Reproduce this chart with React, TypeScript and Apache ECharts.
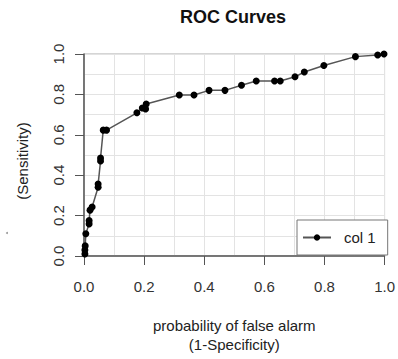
import React, { useEffect, useRef } from "react";
import * as echarts from "echarts";

const fpr = [0.003, 0.003, 0.004, 0.006, 0.017, 0.017, 0.02, 0.027, 0.047, 0.047, 0.055, 0.055, 0.064, 0.075, 0.176, 0.194, 0.205, 0.207, 0.317, 0.366, 0.416, 0.469, 0.524, 0.573, 0.634, 0.653, 0.702, 0.733, 0.798, 0.903, 0.977, 0.998];
const tpr = [0.01, 0.03, 0.05, 0.11, 0.159, 0.175, 0.227, 0.243, 0.34, 0.356, 0.47, 0.485, 0.623, 0.623, 0.709, 0.733, 0.728, 0.752, 0.797, 0.797, 0.82, 0.82, 0.845, 0.866, 0.866, 0.866, 0.887, 0.911, 0.943, 0.987, 0.995, 1.0];
const seriesName = "col 1";
const titleText = "ROC Curves";
const xTitle = "probability of false alarm\n(1-Specificity)";
const yTitle = "(Sensitivity)";

const FONT = "'Liberation Sans', Arial, sans-serif";

export default function App() {
  const ref = useRef<HTMLDivElement>(null);
  useEffect(() => {
    if (!ref.current) return;
    const chart = echarts.init(ref.current, null, { renderer: "svg" });
    const data = fpr.map((x, i) => [x, tpr[i]]);
    const gridLine = { show: true, lineStyle: { color: "#e3e3e3", width: 1 } };
    chart.setOption({
      animation: false,
      backgroundColor: "#fff",
      textStyle: { fontFamily: FONT },
      title: {
        text: titleText,
        left: 180,
        top: 8,
        padding: 0,
        textStyle: { fontFamily: FONT, fontSize: 18, fontWeight: "bold", color: "#111" },
      },
      legend: {
        data: [seriesName],
        left: 297,
        top: 220,
        padding: [10, 12, 10, 5],
        itemWidth: 28,
        itemHeight: 8,
        borderColor: "#777",
        borderWidth: 1,
        borderRadius: 0,
        backgroundColor: "#fff",
        textStyle: { fontFamily: FONT, fontSize: 15, color: "#222", padding: [0, 0, 0, 8] },
      },
      grid: {
        left: 84,
        right: 11,
        top: 54,
        bottom: 99,
        show: true,
        borderColor: "#aaa",
        borderWidth: 1,
        containLabel: false,
      },
      xAxis: {
        type: "value",
        min: 0,
        max: 1,
        interval: 0.2,
        name: xTitle,
        nameLocation: "middle",
        nameGap: 60,
        nameTextStyle: { fontFamily: FONT, fontSize: 15, color: "#222", lineHeight: 19 },
        axisLine: { show: true, lineStyle: { color: "#555", width: 1.5 } },
        axisTick: { show: true, inside: false, length: 9, lineStyle: { color: "#555" } },
        axisLabel: { margin: 23, fontSize: 15, color: "#333", fontFamily: FONT, formatter: (v: number) => v.toFixed(1) },
        splitLine: gridLine,
        minorTick: { show: false, splitNumber: 2 },
        minorSplitLine: gridLine,
      },
      yAxis: {
        type: "value",
        min: 0,
        max: 1,
        interval: 0.2,
        name: yTitle,
        nameLocation: "middle",
        nameRotate: 90,
        nameGap: 54,
        nameTextStyle: { fontFamily: FONT, fontSize: 15, color: "#222", padding: [0, 12, 0, 0] },
        axisLine: { show: true, lineStyle: { color: "#555", width: 1.5 } },
        axisTick: { show: true, inside: false, length: 9, lineStyle: { color: "#555" } },
        axisLabel: { margin: 18, rotate: 90, fontSize: 15, color: "#333", fontFamily: FONT, formatter: (v: number) => v.toFixed(1) },
        splitLine: gridLine,
        minorTick: { show: false, splitNumber: 2 },
        minorSplitLine: gridLine,
      },
      graphic: [
        { type: "circle", shape: { cx: 7, cy: 233, r: 1 }, style: { fill: "#999" }, silent: true },
      ],
      series: [
        {
          name: seriesName,
          type: "line",
          data,
          symbol: "circle",
          symbolSize: 7,
          showAllSymbol: true,
          itemStyle: { color: "#000" },
          lineStyle: { color: "#555", width: 1.5 },
        },
      ],
    });
    return () => chart.dispose();
  }, []);
  return <div ref={ref} style={{ position: "fixed", left: 0, top: 0, width: 398, height: 359 }} />;
}
